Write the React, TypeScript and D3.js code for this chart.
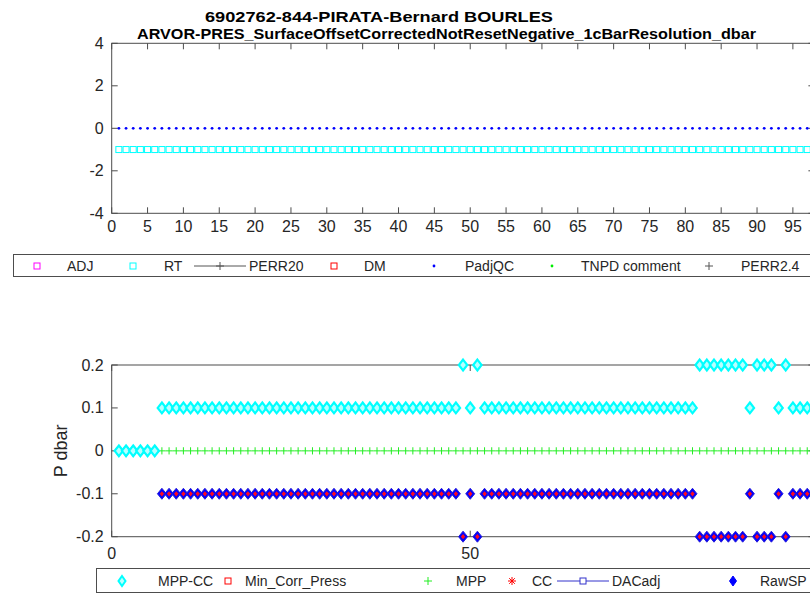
import { useEffect, useRef } from 'react';
import * as d3 from 'd3';

const WIDTH = 810;
const HEIGHT = 599;
const FONT = '"Liberation Sans", Arial, Helvetica, sans-serif';
const AXIS_COLOR = '#4d4d4d';
const TEXT_COLOR = '#262626';

const titleLines = [
  '6902762-844-PIRATA-Bernard BOURLES',
  'ARVOR-PRES_SurfaceOffsetCorrectedNotResetNegative_1cBarResolution_dbar'
];

// cycle numbers on the x axis
const cycles = d3.range(1, 99);

// upper panel
const topXTicks = [0, 5, 10, 15, 20, 25, 30, 35, 40, 45, 50, 55, 60, 65, 70, 75, 80, 85, 90, 95];
const topYTicks = [-4, -2, 0, 2, 4];
const padjQc = [
  0, 0, 0, 0, 0, 0, 0, 0, 0, 0, 0, 0, 0, 0, 0, 0, 0, 0, 0, 0,
  0, 0, 0, 0, 0, 0, 0, 0, 0, 0, 0, 0, 0, 0, 0, 0, 0, 0, 0, 0,
  0, 0, 0, 0, 0, 0, 0, 0, 0, 0, 0, 0, 0, 0, 0, 0, 0, 0, 0, 0,
  0, 0, 0, 0, 0, 0, 0, 0, 0, 0, 0, 0, 0, 0, 0, 0, 0, 0, 0, 0,
  0, 0, 0, 0, 0, 0, 0, 0, 0, 0, 0, 0, 0, 0, 0, 0, 0, 0
];
const rt = [
  -1, -1, -1, -1, -1, -1, -1, -1, -1, -1, -1, -1, -1, -1, -1, -1, -1, -1, -1, -1,
  -1, -1, -1, -1, -1, -1, -1, -1, -1, -1, -1, -1, -1, -1, -1, -1, -1, -1, -1, -1,
  -1, -1, -1, -1, -1, -1, -1, -1, -1, -1, -1, -1, -1, -1, -1, -1, -1, -1, -1, -1,
  -1, -1, -1, -1, -1, -1, -1, -1, -1, -1, -1, -1, -1, -1, -1, -1, -1, -1, -1, -1,
  -1, -1, -1, -1, -1, -1, -1, -1, -1, -1, -1, -1, -1, -1, -1, -1, -1, -1
];
const topLegend = ['ADJ', 'RT', 'PERR20', 'DM', 'PadjQC', 'TNPD comment', 'PERR2.4'];

// lower panel
const bottomXTicks = [0, 50];
const bottomYTicks = [-0.2, -0.1, 0, 0.1, 0.2];
const mppCc = [
  0, 0, 0, 0, 0, 0, 0.1, 0.1, 0.1, 0.1,
  0.1, 0.1, 0.1, 0.1, 0.1, 0.1, 0.1, 0.1, 0.1, 0.1,
  0.1, 0.1, 0.1, 0.1, 0.1, 0.1, 0.1, 0.1, 0.1, 0.1,
  0.1, 0.1, 0.1, 0.1, 0.1, 0.1, 0.1, 0.1, 0.1, 0.1,
  0.1, 0.1, 0.1, 0.1, 0.1, 0.1, 0.1, 0.1, 0.2, 0.1,
  0.2, 0.1, 0.1, 0.1, 0.1, 0.1, 0.1, 0.1, 0.1, 0.1,
  0.1, 0.1, 0.1, 0.1, 0.1, 0.1, 0.1, 0.1, 0.1, 0.1,
  0.1, 0.1, 0.1, 0.1, 0.1, 0.1, 0.1, 0.1, 0.1, 0.1,
  0.1, 0.2, 0.2, 0.2, 0.2, 0.2, 0.2, 0.2, 0.1, 0.2,
  0.2, 0.2, 0.1, 0.2, 0.1, 0.1, 0.1, 0.1
];
const rawSp = [
  0, 0, 0, 0, 0, 0, -0.1, -0.1, -0.1, -0.1,
  -0.1, -0.1, -0.1, -0.1, -0.1, -0.1, -0.1, -0.1, -0.1, -0.1,
  -0.1, -0.1, -0.1, -0.1, -0.1, -0.1, -0.1, -0.1, -0.1, -0.1,
  -0.1, -0.1, -0.1, -0.1, -0.1, -0.1, -0.1, -0.1, -0.1, -0.1,
  -0.1, -0.1, -0.1, -0.1, -0.1, -0.1, -0.1, -0.1, -0.2, -0.1,
  -0.2, -0.1, -0.1, -0.1, -0.1, -0.1, -0.1, -0.1, -0.1, -0.1,
  -0.1, -0.1, -0.1, -0.1, -0.1, -0.1, -0.1, -0.1, -0.1, -0.1,
  -0.1, -0.1, -0.1, -0.1, -0.1, -0.1, -0.1, -0.1, -0.1, -0.1,
  -0.1, -0.2, -0.2, -0.2, -0.2, -0.2, -0.2, -0.2, -0.1, -0.2,
  -0.2, -0.2, -0.1, -0.2, -0.1, -0.1, -0.1, -0.1
];
const cc = rawSp; // CC sits exactly on the raw surface pressure
const mpp = [
  0, 0, 0, 0, 0, 0, 0, 0, 0, 0, 0, 0, 0, 0, 0, 0, 0, 0, 0, 0,
  0, 0, 0, 0, 0, 0, 0, 0, 0, 0, 0, 0, 0, 0, 0, 0, 0, 0, 0, 0,
  0, 0, 0, 0, 0, 0, 0, 0, 0, 0, 0, 0, 0, 0, 0, 0, 0, 0, 0, 0,
  0, 0, 0, 0, 0, 0, 0, 0, 0, 0, 0, 0, 0, 0, 0, 0, 0, 0, 0, 0,
  0, 0, 0, 0, 0, 0, 0, 0, 0, 0, 0, 0, 0, 0, 0, 0, 0, 0
];
const bottomLegend = ['MPP-CC', 'Min_Corr_Press', 'MPP', 'CC', 'DACadj', 'RawSP'];

type G = d3.Selection<SVGGElement, unknown, null, undefined>;

const diamond = (w: number, h: number) => `M0,${-h}L${w},0L0,${h}L${-w},0Z`;
const plus = (s: number) => `M${-s},0H${s}M0,${-s}V${s}`;
const star = (s: number) => {
  const d = s * 0.7;
  return `M${-s},0H${s}M0,${-s}V${s}M${-d},${-d}L${d},${d}M${-d},${d}L${d},${-d}`;
};

function drawFrame(
  g: G,
  x: d3.ScaleLinear<number, number>,
  y: d3.ScaleLinear<number, number>,
  xTicks: number[],
  yTicks: number[],
  yFmt: (v: number) => string,
  xLabelY: number
) {
  const [x0, x1] = x.range();
  const [y0, y1] = y.range();
  const tl = 6;

  g.append('rect')
    .attr('x', x0)
    .attr('y', y1)
    .attr('width', x1 - x0)
    .attr('height', y0 - y1)
    .attr('fill', 'none')
    .attr('stroke', AXIS_COLOR)
    .attr('stroke-width', 1);

  const ticks = g.append('g').attr('stroke', AXIS_COLOR).attr('stroke-width', 1);
  ticks.selectAll('line.xb')
    .data(xTicks)
    .join('line')
    .attr('class', 'xb')
    .attr('x1', d => x(d)).attr('x2', d => x(d))
    .attr('y1', y0).attr('y2', y0 - tl);
  ticks.selectAll('line.xt')
    .data(xTicks)
    .join('line')
    .attr('class', 'xt')
    .attr('x1', d => x(d)).attr('x2', d => x(d))
    .attr('y1', y1).attr('y2', y1 + tl);
  ticks.selectAll('line.yl')
    .data(yTicks)
    .join('line')
    .attr('class', 'yl')
    .attr('x1', x0).attr('x2', x0 + tl)
    .attr('y1', d => y(d)).attr('y2', d => y(d));
  ticks.selectAll('line.yr')
    .data(yTicks)
    .join('line')
    .attr('class', 'yr')
    .attr('x1', x1).attr('x2', x1 - tl)
    .attr('y1', d => y(d)).attr('y2', d => y(d));

  g.append('g')
    .selectAll('text')
    .data(xTicks)
    .join('text')
    .attr('x', d => x(d))
    .attr('y', xLabelY)
    .attr('text-anchor', 'middle')
    .text(d => String(d));

  g.append('g')
    .selectAll('text')
    .data(yTicks)
    .join('text')
    .attr('x', x0 - 8)
    .attr('y', d => y(d) + 5.5)
    .attr('text-anchor', 'end')
    .text(d => yFmt(d));
}

export default function App() {
  const ref = useRef<SVGSVGElement>(null);

  useEffect(() => {
    if (!ref.current) return;
    const svg = d3.select(ref.current);
    svg.selectAll('*').remove();

    const root = svg
      .append('g')
      .style('font-family', FONT)
      .style('font-size', '16px')
      .attr('fill', TEXT_COLOR) as G;

    // same cycle scale for both panels
    const x = d3.scaleLinear().domain([0, 98]).range([111.7, 814.4]);

    // ---- upper panel ----
    const yTop = d3.scaleLinear().domain([-4, 4]).range([213.3, 43.3]);
    const top = root.append('g') as G;
    drawFrame(top, x, yTop, topXTicks, topYTicks, v => String(v), 232);

    top.append('g')
      .selectAll('rect')
      .data(rt)
      .join('rect')
      .attr('x', (_, i) => x(cycles[i]) - 3)
      .attr('y', d => yTop(d) - 3)
      .attr('width', 6)
      .attr('height', 6)
      .attr('fill', 'none')
      .attr('stroke', '#00ffff')
      .attr('stroke-width', 1);

    top.append('g')
      .selectAll('circle')
      .data(padjQc)
      .join('circle')
      .attr('cx', (_, i) => x(cycles[i]))
      .attr('cy', d => yTop(d))
      .attr('r', 1.4)
      .attr('fill', '#0000ff');

    // title
    const title = root.append('g').attr('fill', '#000').style('font-weight', 'bold').style('font-size', '15px');
    title.append('text')
      .attr('x', 205)
      .attr('y', 22)
      .attr('textLength', 348)
      .attr('lengthAdjust', 'spacingAndGlyphs')
      .text(titleLines[0]);
    title.append('text')
      .attr('x', 137)
      .attr('y', 39)
      .attr('textLength', 619)
      .attr('lengthAdjust', 'spacingAndGlyphs')
      .text(titleLines[1]);

    // upper legend
    const legTop = root.append('g').style('font-size', '14px');
    legTop.append('rect')
      .attr('x', 13.5).attr('y', 254.5)
      .attr('width', 820).attr('height', 22)
      .attr('fill', '#fff').attr('stroke', AXIS_COLOR);
    const ly = 266;
    const topItems = [
      { label: topLegend[0], mx: 37, tx: 67, kind: 'sq', color: '#ff00ff' },
      { label: topLegend[1], mx: 133, tx: 164, kind: 'sq', color: '#00ffff' },
      { label: topLegend[2], mx: 220, tx: 249, kind: 'lineplus', color: '#555' },
      { label: topLegend[3], mx: 334, tx: 364, kind: 'sq', color: '#ff0000' },
      { label: topLegend[4], mx: 434, tx: 465, kind: 'dot', color: '#0000ff' },
      { label: topLegend[5], mx: 552, tx: 581, kind: 'dot', color: '#00ee00' },
      { label: topLegend[6], mx: 709, tx: 741, kind: 'plus', color: '#555' }
    ];
    topItems.forEach(it => {
      if (it.kind === 'sq') {
        legTop.append('rect')
          .attr('x', it.mx - 3).attr('y', ly - 3).attr('width', 6).attr('height', 6)
          .attr('fill', 'none').attr('stroke', it.color);
      } else if (it.kind === 'dot') {
        legTop.append('circle').attr('cx', it.mx).attr('cy', ly).attr('r', 1.4).attr('fill', it.color);
      } else if (it.kind === 'plus') {
        legTop.append('path').attr('d', plus(4)).attr('transform', `translate(${it.mx},${ly})`)
          .attr('stroke', it.color).attr('fill', 'none');
      } else {
        legTop.append('line').attr('x1', it.mx - 26).attr('x2', it.mx + 26)
          .attr('y1', ly).attr('y2', ly).attr('stroke', it.color);
        legTop.append('path').attr('d', plus(4)).attr('transform', `translate(${it.mx},${ly})`)
          .attr('stroke', it.color).attr('fill', 'none');
      }
      legTop.append('text').attr('x', it.tx).attr('y', ly + 5).text(it.label);
    });

    // ---- lower panel ----
    const yBot = d3.scaleLinear().domain([-0.2, 0.2]).range([536.7, 365]);
    const bot = root.append('g') as G;
    drawFrame(bot, x, yBot, bottomXTicks, bottomYTicks, v => (v === 0 ? '0' : String(v)), 559);

    bot.append('text')
      .attr('transform', `translate(67,${yBot(0)}) rotate(-90)`)
      .attr('text-anchor', 'middle')
      .style('font-size', '18px')
      .text('P dbar');

    const marks = bot.append('g');

    marks.append('g')
      .selectAll('path')
      .data(rawSp)
      .join('path')
      .attr('d', diamond(4.5, 5.5))
      .attr('transform', (d, i) => `translate(${x(cycles[i])},${yBot(d)})`)
      .attr('fill', '#0000ff')
      .attr('stroke', '#2a1fd8')
      .attr('stroke-width', 1);

    marks.append('g')
      .selectAll('path')
      .data(cc)
      .join('path')
      .attr('d', diamond(2.2, 2.6))
      .attr('transform', (d, i) => `translate(${x(cycles[i])},${yBot(d)})`)
      .attr('fill', '#ff0a1e');

    marks.append('g')
      .selectAll('path')
      .data(mpp)
      .join('path')
      .attr('d', plus(3.6))
      .attr('transform', (d, i) => `translate(${x(cycles[i])},${yBot(d)})`)
      .attr('stroke', '#22ee22')
      .attr('fill', 'none');

    marks.append('g')
      .selectAll('path')
      .data(mppCc)
      .join('path')
      .attr('d', diamond(4.2, 5.4))
      .attr('transform', (d, i) => `translate(${x(cycles[i])},${yBot(d)})`)
      .attr('fill', '#b8ffff')
      .attr('stroke', '#00ffff')
      .attr('stroke-width', 2.2);

    // lower legend
    const legBot = root.append('g').style('font-size', '14px');
    legBot.append('rect')
      .attr('x', 96.5).attr('y', 568.5)
      .attr('width', 740).attr('height', 24)
      .attr('fill', '#fff').attr('stroke', AXIS_COLOR);
    const by = 581;
    const botItems = [
      { label: bottomLegend[0], mx: 122, tx: 158, kind: 'dia', color: '#00ffff' },
      { label: bottomLegend[1], mx: 228, tx: 245, kind: 'sq', color: '#ff0000' },
      { label: bottomLegend[2], mx: 428, tx: 456, kind: 'plus', color: '#22ee22' },
      { label: bottomLegend[3], mx: 512, tx: 532, kind: 'star', color: '#ff0000' },
      { label: bottomLegend[4], mx: 583, tx: 612, kind: 'lineSq', color: '#3333cc' },
      { label: bottomLegend[5], mx: 733, tx: 760, kind: 'diaB', color: '#0000ff' }
    ];
    botItems.forEach(it => {
      const t = `translate(${it.mx},${by})`;
      if (it.kind === 'dia') {
        legBot.append('path').attr('d', diamond(3.5, 5)).attr('transform', t)
          .attr('fill', '#b8ffff').attr('stroke', it.color).attr('stroke-width', 2);
      } else if (it.kind === 'diaB') {
        legBot.append('path').attr('d', diamond(3.5, 5)).attr('transform', t)
          .attr('fill', it.color).attr('stroke', it.color);
      } else if (it.kind === 'sq') {
        legBot.append('rect').attr('x', it.mx - 3).attr('y', by - 3).attr('width', 6).attr('height', 6)
          .attr('fill', 'none').attr('stroke', it.color);
      } else if (it.kind === 'plus') {
        legBot.append('path').attr('d', plus(4)).attr('transform', t)
          .attr('stroke', it.color).attr('fill', 'none');
      } else if (it.kind === 'star') {
        legBot.append('path').attr('d', star(4)).attr('transform', t)
          .attr('stroke', it.color).attr('fill', 'none');
      } else {
        legBot.append('line').attr('x1', it.mx - 26).attr('x2', it.mx + 26)
          .attr('y1', by).attr('y2', by).attr('stroke', it.color);
        legBot.append('rect').attr('x', it.mx - 3).attr('y', by - 3).attr('width', 6).attr('height', 6)
          .attr('fill', '#fff').attr('stroke', it.color);
      }
      legBot.append('text').attr('x', it.tx).attr('y', by + 5).text(it.label);
    });
  }, []);

  return (
    <svg
      ref={ref}
      width={WIDTH}
      height={HEIGHT}
      style={{ position: 'absolute', left: 0, top: 0, background: '#fff' }}
    />
  );
}
